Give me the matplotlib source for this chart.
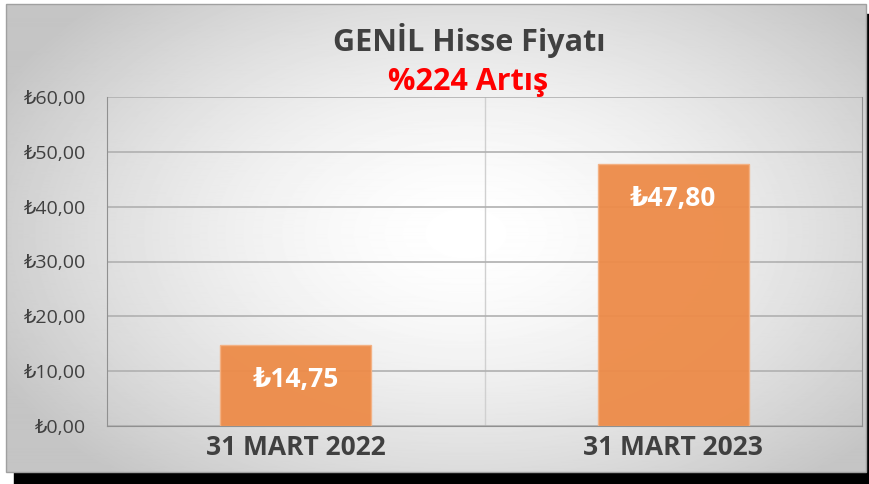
import matplotlib.pyplot as plt
import numpy as np
from matplotlib.patches import Rectangle

plt.rcParams['font.family'] = ['Open Sans', 'DejaVu Sans']

categories = ['31 MART 2022', '31 MART 2023']
prices = [14.75, 47.80]
price_labels = ['₺14,75', '₺47,80']
yticks = [0, 10, 20, 30, 40, 50, 60]
ytick_labels = ['₺0,00', '₺10,00', '₺20,00', '₺30,00', '₺40,00', '₺50,00', '₺60,00']

W, H = 869, 484
fig = plt.figure(figsize=(W / 100, H / 100), dpi=100)
fig.patch.set_facecolor('white')

# background: shadow + radial grey gradient panel
bg = fig.add_axes([0, 0, 1, 1], zorder=-5)
bg.set_xlim(0, W)
bg.set_ylim(H, 0)
bg.axis('off')
bg.add_patch(Rectangle((14, 14), W - 14, H - 14, color='black', zorder=0))
yy, xx = np.mgrid[0:470, 0:860]
r = np.sqrt(((xx - 460) / 480.0) ** 2 + ((yy - 230) / 300.0) ** 2)
g = np.clip(1.0 - 0.2 * r ** 1.6, 0.77, 1.0)
bg.imshow(g, cmap='gray', vmin=0, vmax=1, extent=(6, 866, 472, 4),
          interpolation='bilinear', aspect='auto', zorder=1)
bg.add_patch(Rectangle((6, 4), 860, 468, fill=False, ec='#a0a0a0', lw=1, zorder=2))

ax = fig.add_axes([107 / W, 1 - 426 / H, (862 - 107) / W, (426 - 97) / H])
ax.patch.set_alpha(0)
x = np.arange(len(categories))
bars = ax.bar(x, prices, width=0.4, color='#ed8b48', edgecolor='#f4b183',
              linewidth=1, alpha=0.95, zorder=3)
for b, lab in zip(bars, price_labels):
    ax.text(b.get_x() + b.get_width() / 2, b.get_height() - 3.8, lab,
            ha='center', va='top', color='white', fontsize=19,
            fontweight='bold', zorder=4)

ax.set_xlim(-0.5, 1.5)
ax.set_ylim(0, 60)
ax.set_yticks(yticks)
ax.set_yticklabels(ytick_labels, fontsize=14, color='#404040')
ax.set_xticks(x)
ax.set_xticklabels(categories, fontsize=19, fontweight='bold', color='#404040')
ax.tick_params(length=0, pad=6)
ax.tick_params(axis='y', pad=15)
ax.grid(axis='y', color='#b0b0b0', lw=1.2, zorder=1)
ax.axvline(0.5, color='#d0d0d0', lw=1, zorder=1)
ax.spines['top'].set_visible(False)
ax.spines['left'].set_color('#909090')
ax.spines['bottom'].set_color('#909090')
ax.spines['right'].set_color('#909090')

fig.text(469 / W, 1 - 40 / H, 'GENİL Hisse Fiyatı', ha='center', va='center',
         fontsize=22, fontweight='bold', color='#404040')
fig.text(468 / W, 1 - 82 / H, '%224 Artış', ha='center', va='center',
         fontsize=22, fontweight='bold', color='#ff0000')

fig.savefig('out.png', dpi=100)
